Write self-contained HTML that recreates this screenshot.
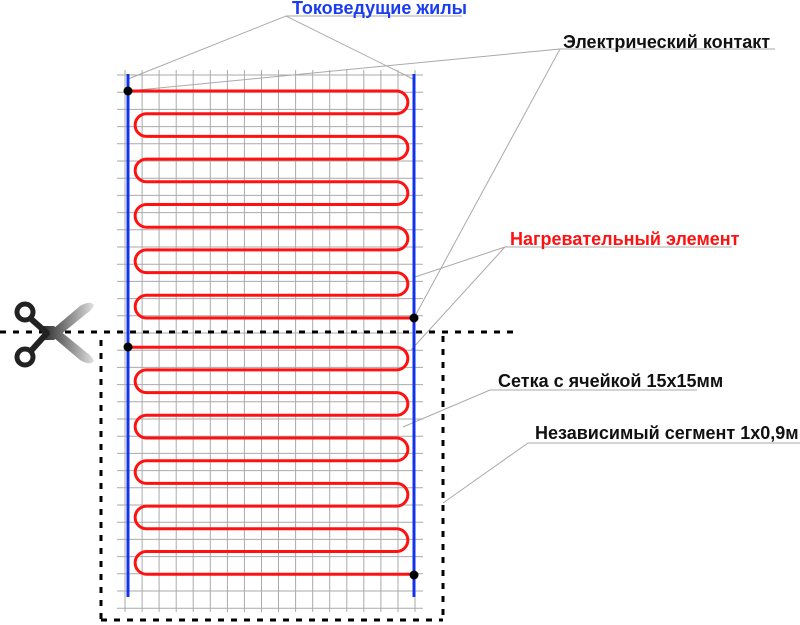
<!DOCTYPE html>
<html><head><meta charset="utf-8"><style>
html,body{margin:0;padding:0;background:#fff}
svg{display:block}
text{font-family:"Liberation Sans",sans-serif;font-weight:bold;font-size:18px}
</style></head><body>
<svg id="s" width="800" height="625" xmlns="http://www.w3.org/2000/svg">
<defs><linearGradient id="g" x1="0" x2="1"><stop offset="0" stop-color="#222"/><stop offset="1" stop-color="#e0e0e0"/></linearGradient></defs>
<g id="grid" stroke="#aaaaaa" stroke-width="1"></g>
<g stroke="#aaa" stroke-width="1" fill="none">
<polyline points="128,79 286,16 413,79"/><line x1="286" y1="16" x2="462" y2="16"/>
<polyline points="128,91 560,49 414,318"/><line x1="560" y1="49" x2="775" y2="49"/>
<polyline points="415,277 505,247 411,350"/><line x1="505" y1="247" x2="732" y2="247"/>
<polyline points="403,427 490,390 697,390"/>
<polyline points="443,503 528,443 800,443"/>
</g>
<line x1="128" y1="74" x2="128" y2="597" stroke="#1133ee" stroke-width="3"/>
<line x1="414" y1="74" x2="414" y2="597" stroke="#1133ee" stroke-width="3"/>
<path id="red" fill="none" stroke="#ff1111" stroke-width="3"/>
<g fill="#000"><circle cx="128" cy="91" r="4.5"/><circle cx="414" cy="318" r="4.5"/><circle cx="128" cy="347" r="4.5"/><circle cx="414" cy="575" r="4.5"/></g>
<g stroke="#000" stroke-width="3" stroke-dasharray="6 7" fill="none">
<line x1="0" y1="332" x2="515" y2="332"/>
<line x1="101" y1="340" x2="101" y2="620"/>
<line x1="101" y1="620" x2="443" y2="620"/>
<line x1="443" y1="336" x2="443" y2="620"/>
</g>
<g>
<path d="M40,340 L80,306 Q90,300 94,305 Q92,310 86,314 L54,340 Z" fill="url(#g)"/>
<path d="M40,326 L80,360 Q90,366 94,361 Q92,356 86,352 L54,326 Z" fill="url(#g)"/>
<path d="M30,318 L48,334 M30,352 L48,332" stroke="#222" stroke-width="6"/>
<circle cx="25" cy="312" r="8" fill="none" stroke="#222" stroke-width="5"/>
<circle cx="25" cy="357" r="8" fill="none" stroke="#222" stroke-width="5"/>
</g>
<text x="292" y="14" fill="#1a3cf0">Токоведущие жилы</text>
<text x="563" y="48" fill="#111">Электрический контакт</text>
<text x="510" y="245" fill="#ff1111">Нагревательный элемент</text>
<text x="498" y="387" fill="#111">Сетка с ячейкой 15х15мм</text>
<text x="535" y="439" fill="#111">Независимый сегмент 1х0,9м</text>
</svg>
<script>
var g=document.getElementById('grid'),s='';
for(var i=0;i<=17;i++){var x=(125+i*17.06).toFixed(1);s+='<line x1="'+x+'" y1="70" x2="'+x+'" y2="612"/>';}
for(var k=0;k<=31;k++){var y=(75+k*17.2).toFixed(1);s+='<line x1="117" y1="'+y+'" x2="423" y2="'+y+'"/>';}
g.innerHTML=s;
function seg(y0){var d='M128,'+y0,step=22.7,r=step/2;
for(var i=0;i<11;i++){var y=y0+i*step;
 if(i%2==0){ if(i==10){d+=' L414,'+y.toFixed(1);} else {d+=' L396.5,'+y.toFixed(1)+' A'+r+','+r+' 0 0 1 396.5,'+(y+step).toFixed(1);} }
 else { d+=' L146.5,'+y.toFixed(1)+' A'+r+','+r+' 0 0 0 146.5,'+(y+step).toFixed(1); }
}return d;}
document.getElementById('red').setAttribute('d',seg(91)+' '+seg(347.2));
</script>
</body></html>
